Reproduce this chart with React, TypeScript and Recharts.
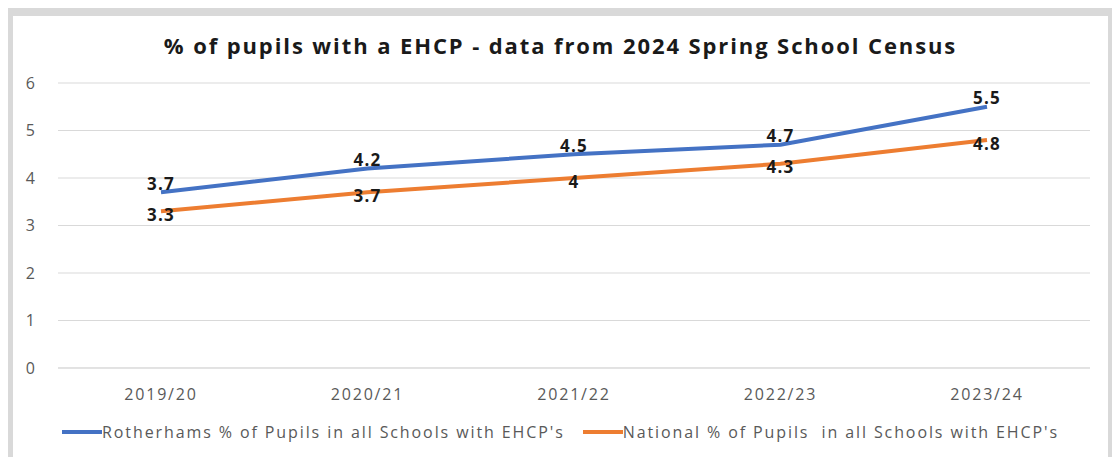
import { LineChart, Line, XAxis, YAxis, CartesianGrid, Legend, LabelList } from 'recharts';

const years = ['2019/20', '2020/21', '2021/22', '2022/23', '2023/24'];
const rotherham = [3.7, 4.2, 4.5, 4.7, 5.5];
const national = [3.3, 3.7, 4, 4.3, 4.8];
const yTicks = [0, 1, 2, 3, 4, 5, 6];

const seriesNames = {
  rotherham: "Rotherhams % of Pupils in all Schools with EHCP's",
  national: "National % of Pupils  in all Schools with EHCP's",
};

const data = years.map((year, i) => ({
  year,
  rotherham: rotherham[i],
  national: national[i],
}));

const BLUE = '#4472C4';
const ORANGE = '#ED7D31';
const FONT = '"Open Sans", sans-serif';

const makeLabel = (dy: number) => (props: any) => {
  const { x, y, value } = props;
  return (
    <text
      x={x}
      y={y + dy}
      textAnchor="middle"
      dominantBaseline="central"
      fontFamily={FONT}
      fontWeight={700}
      fontSize={17}
      letterSpacing={1.2}
      fill="#1a1a1a"
    >
      {value}
    </text>
  );
};

const renderLegend = () => (
  <div style={{
    display: 'flex',
    justifyContent: 'center',
    alignItems: 'center',
    fontFamily: FONT,
    fontSize: 16,
    letterSpacing: 1.9,
    color: '#595959',
    whiteSpace: 'pre',
  }}>
    <span style={{ width: 40, height: 4, background: BLUE, display: 'inline-block' }} />
    <span>{seriesNames.rotherham}</span>
    <span style={{ width: 40, height: 4, background: ORANGE, display: 'inline-block', marginLeft: 18 }} />
    <span>{seriesNames.national}</span>
  </div>
);

export default function App() {
  return (
    <div style={{ width: 1120, height: 465, background: '#fff', margin: -8, paddingTop: 5, boxSizing: 'border-box' }}>
      <div style={{
        width: 1120,
        height: 460,
        background: '#d9d9d9',
        padding: '11px 12px 0 13px',
        boxSizing: 'border-box',
      }}>
        <div style={{ position: 'relative', width: 1095, height: 444, background: '#fff' }}>
          <div style={{
            position: 'absolute',
            top: 14,
            left: 0,
            width: 1095,
            textAlign: 'center',
            fontFamily: FONT,
            fontWeight: 700,
            fontSize: 22,
            letterSpacing: 1.9,
            color: '#1a1a1a',
          }}>
            % of pupils with a EHCP - data from 2024 Spring School Census
          </div>
          <LineChart width={1095} height={444} data={data} margin={{ top: 67, right: 18, left: 0, bottom: 52 }}>
            <CartesianGrid vertical={false} stroke="#d9d9d9" />
            <XAxis
              dataKey="year"
              height={40}
              padding={{ left: 103, right: 103 }}
              axisLine={{ stroke: '#d9d9d9' }}
              tickLine={false}
              tickSize={0}
              tickMargin={21}
              tick={{ fontSize: 16, fill: '#595959', fontFamily: FONT, letterSpacing: 1.8 }}
            />
            <YAxis
              width={45}
              domain={[0, 6]}
              ticks={yTicks}
              axisLine={false}
              tickLine={false}
              tickSize={0}
              tickMargin={23}
              tick={{ fontSize: 16, fill: '#595959', fontFamily: FONT }}
            />
            <Legend
              layout="horizontal"
              verticalAlign="middle"
              align="center"
              content={renderLegend}
              wrapperStyle={{ top: 405, left: 0, width: 1095 }}
            />
            <Line
              dataKey="rotherham"
              name={seriesNames.rotherham}
              stroke={BLUE}
              strokeWidth={4}
              dot={false}
              isAnimationActive={false}
            >
              <LabelList dataKey="rotherham" content={makeLabel(-9)} />
            </Line>
            <Line
              dataKey="national"
              name={seriesNames.national}
              stroke={ORANGE}
              strokeWidth={4}
              dot={false}
              isAnimationActive={false}
            >
              <LabelList dataKey="national" content={makeLabel(3)} />
            </Line>
          </LineChart>
        </div>
      </div>
    </div>
  );
}
